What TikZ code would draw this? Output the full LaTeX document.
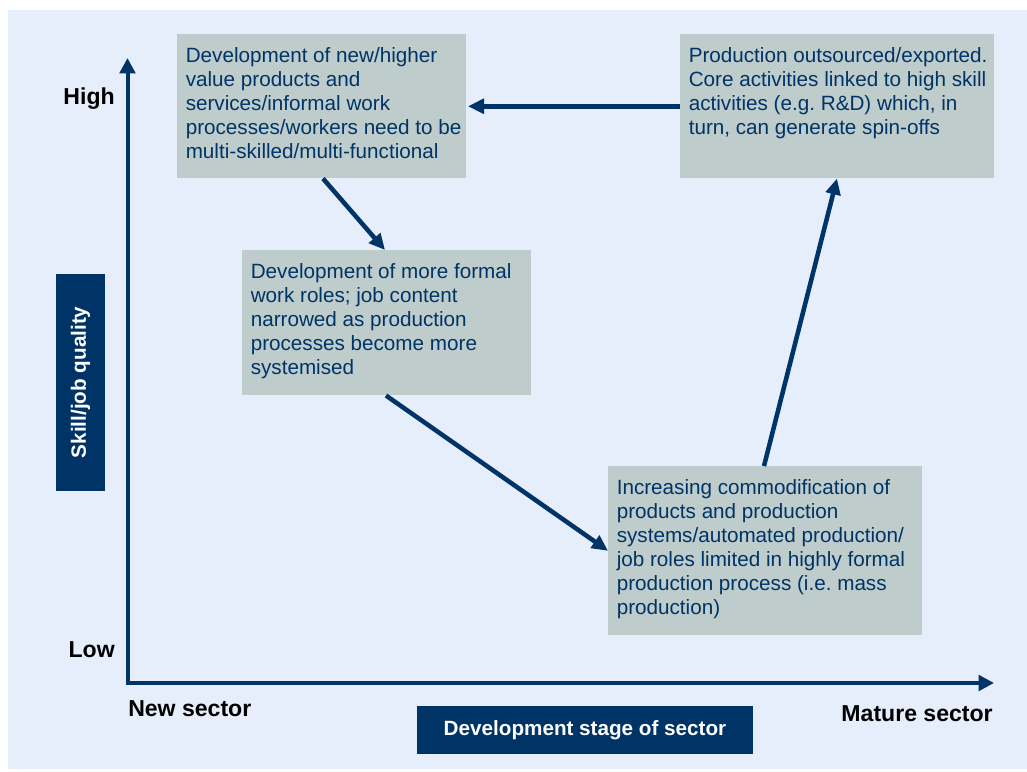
\documentclass[tikz,border=0pt]{standalone}
\usepackage{fontspec}
\setmainfont{Liberation Sans}
\usetikzlibrary{arrows.meta,calc}
\definecolor{navy}{RGB}{0,51,102}
\definecolor{boxfill}{RGB}{190,204,204}
\definecolor{bgcol}{RGB}{230,238,252}
\newlength\PX \PX=0.75pt
\newcommand\bxtxt[3]{\parbox[c][#2\PX][t]{#1\PX}{\raggedright\leftskip=8.5\PX\rule{0pt}{28.5\PX}#3}}
\frenchspacing
\tikzset{
  gbox/.style={fill=boxfill, inner sep=0pt, anchor=north west, text=navy,
    font=\fontsize{15.5}{18}\selectfont},
  dbox/.style={fill=navy, inner sep=0pt, text=white,
    font=\fontsize{15.5}{18}\selectfont\bfseries},
  axlabel/.style={inner sep=0pt, text=black, font=\fontsize{17.3}{20}\selectfont\bfseries},
  axis/.style={draw=navy, line width=3pt, -{Triangle[length=11.5pt,width=11.5pt]}},
  flow/.style={draw=navy, line width=3.4pt, -{Triangle[length=12pt,width=11pt]}}
}
\begin{document}
\begin{tikzpicture}[x=0.75pt,y=-0.75pt]
\useasboundingbox (0,0) rectangle (1027,771);
\fill[bgcol] (8,10) rectangle (1027,769);

% axes
\coordinate (origin) at (127.5,683);
\coordinate (ytip) at (127.5,58);
\coordinate (xtip) at (994,683);
\draw[axis] ($(origin)+(0,2)$) -- (ytip);
\draw[axis] ($(origin)+(-1.5,0)$) -- (xtip);

% axis labels
\node[axlabel, anchor=base east] (high) at (115,104) {High};
\node[axlabel, anchor=base east] (low) at (115,657) {Low};
\node[axlabel, anchor=base west] (newsec) at (128,716) {New sector};
\node[axlabel, anchor=base east] (matsec) at (993,721) {Mature sector};

\node[dbox, rotate=90, minimum width=216.7\PX, minimum height=49\PX] (skill) at (80.5,382.4) {Skill/job quality};
\node[dbox, minimum width=336\PX, minimum height=48\PX] (stage) at (585,730) {Development stage of sector};

% boxes
\node[gbox] (b1) at (177,34) {\bxtxt{289}{144}{Development of new/higher\\ value products and\\ services/informal work\\ processes/workers need to be\\ multi-skilled/multi-functional}};
\node[gbox] (b2) at (680,34) {\bxtxt{314}{144}{Production outsourced/exported.\\ Core activities linked to high skill\\ activities (e.g. R\&D) which, in\\ turn, can generate spin-offs}};
\node[gbox] (b3) at (242,250) {\bxtxt{289}{145}{Development of more formal\\ work roles; job content\\ narrowed as production\\ processes become more\\ systemised}};
\node[gbox] (b4) at (608,466) {\bxtxt{314}{169}{Increasing commodification of\\ products and production\\ systems/automated production/\\ job roles limited in highly formal\\ production process (i.e. mass\\ production)}};

% flows
\draw[flow] (b2.west) -- ($(b2.west -| b1.east)+(1.5,0)$);
\draw[flow] ($(b1.south west)+(146,0)$) -- ($(b3.north west)+(143,0)$);
\draw[flow] ($(b3.south west)+(144,0)$) -- (b4.west);
\draw[flow] ($(b4.north west)+(156,0)$) -- ($(b2.south west)+(157,0)$);
\end{tikzpicture}
\end{document}
